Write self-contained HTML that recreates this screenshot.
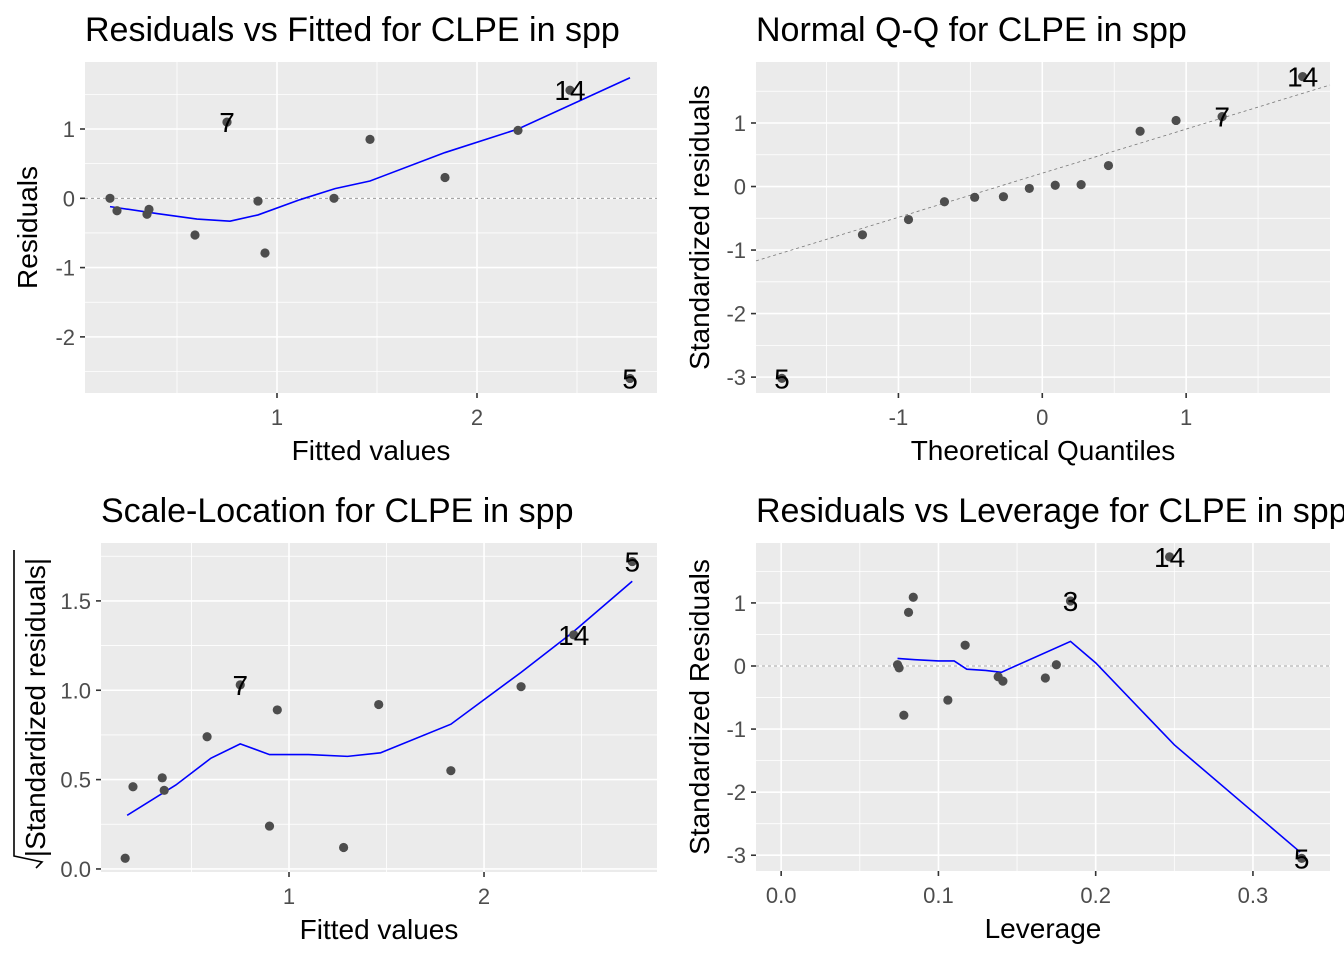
<!DOCTYPE html>
<html><head><meta charset="utf-8">
<style>
html,body{margin:0;padding:0;background:#fff;}
svg{display:block;font-family:"Liberation Sans",Arial,sans-serif;}
</style></head>
<body>
<svg id="chart" width="1344" height="960" viewBox="0 0 1344 960" xmlns="http://www.w3.org/2000/svg"></svg>
<script>
// Panel 1: Residuals vs Fitted
const p1Fitted = [0.165,0.2,0.35,0.36,0.59,0.75,0.905,0.94,1.285,1.465,1.84,2.205,2.465,2.765];
const p1Resid  = [0.0,-0.18,-0.23,-0.16,-0.53,1.1,-0.04,-0.79,0.0,0.85,0.3,0.98,1.56,-2.6];
const p1SmoothX = [0.165,0.4,0.6,0.765,0.905,1.115,1.29,1.465,1.84,2.205,2.765];
const p1SmoothY = [-0.12,-0.22,-0.3,-0.33,-0.24,-0.02,0.14,0.25,0.66,1.0,1.74];
const p1Labels = [[5,"7"],[12,"14"],[13,"5"]];
const p1XTicks = [1,2]; const p1XMinor=[0.5,1.5,2.5];
const p1YTicks = [-2,-1,0,1]; const p1YMinor=[-2.5,-1.5,-0.5,0.5,1.5];

// Panel 2: Normal Q-Q
const p2Theo = [-1.81,-1.25,-0.93,-0.68,-0.47,-0.27,-0.09,0.09,0.27,0.46,0.68,0.93,1.25,1.81];
const p2Std  = [-3.02,-0.76,-0.52,-0.24,-0.17,-0.16,-0.03,0.02,0.03,0.33,0.87,1.04,1.1,1.73];
const p2LineIntercept = 0.21, p2LineSlope = 0.694;
const p2Labels = [[0,"5"],[12,"7"],[13,"14"]];
const p2XTicks=[-1,0,1]; const p2XMinor=[-1.5,-0.5,0.5,1.5];
const p2YTicks=[-3,-2,-1,0,1]; const p2YMinor=[-2.5,-1.5,-0.5,0.5,1.5];

// Panel 3: Scale-Location
const p3Fitted = [0.16,0.2,0.35,0.36,0.58,0.75,0.9,0.94,1.28,1.46,1.83,2.19,2.46,2.76];
const p3Sqrt   = [0.06,0.46,0.51,0.44,0.74,1.03,0.24,0.89,0.12,0.92,0.55,1.02,1.31,1.72];
const p3SmoothX = [0.17,0.42,0.6,0.75,0.9,1.1,1.3,1.47,1.83,2.19,2.45,2.76];
const p3SmoothY = [0.3,0.47,0.62,0.7,0.64,0.64,0.63,0.65,0.81,1.1,1.32,1.61];
const p3Labels = [[5,"7"],[12,"14"],[13,"5"]];
const p3XTicks=[1,2]; const p3XMinor=[0.5,1.5,2.5];
const p3YTicks=[0,0.5,1,1.5]; const p3YTickLabels=["0.0","0.5","1.0","1.5"]; const p3YMinor=[0.25,0.75,1.25,1.75];

// Panel 4: Residuals vs Leverage
const p4Lev = [0.074,0.075,0.078,0.081,0.084,0.106,0.117,0.138,0.141,0.168,0.175,0.184,0.247,0.331];
const p4Std = [0.02,-0.03,-0.78,0.85,1.09,-0.54,0.33,-0.17,-0.24,-0.19,0.02,1.03,1.73,-3.05];
const p4SmoothX = [0.074,0.085,0.1,0.11,0.118,0.13,0.14,0.184,0.2,0.25,0.33];
const p4SmoothY = [0.12,0.1,0.08,0.08,-0.05,-0.07,-0.1,0.39,0.05,-1.25,-2.95];
const p4Labels = [[11,"3"],[12,"14"],[13,"5"]];
const p4XTicks=[0,0.1,0.2,0.3]; const p4XTickLabels=["0.0","0.1","0.2","0.3"]; const p4XMinor=[0.05,0.15,0.25];
const p4YTicks=[-3,-2,-1,0,1]; const p4YMinor=[-2.5,-1.5,-0.5,0.5,1.5];

const NS="http://www.w3.org/2000/svg";
const svg=document.getElementById('chart');
function mk(tag,attrs,parent){const e=document.createElementNS(NS,tag);for(const k in attrs)e.setAttribute(k,attrs[k]);(parent||svg).appendChild(e);return e;}

function panel(cfg){
  const g=mk('g',{});
  
  
  const sx=v=>cfg.x0+(v-cfg.xmin)/(cfg.xmax-cfg.xmin)*(cfg.x1-cfg.x0);
  const sy=v=>cfg.y1-(v-cfg.ymin)/(cfg.ymax-cfg.ymin)*(cfg.y1-cfg.y0);
  const bg=mk('rect',{x:cfg.x0,y:cfg.y0,width:cfg.x1-cfg.x0,height:cfg.y1-cfg.y0,fill:'#EBEBEB'},g);
  
  
  cfg.xMinor.forEach(v=>mk('line',{x1:sx(v),x2:sx(v),y1:cfg.y0,y2:cfg.y1,stroke:'#fff','stroke-width':0.8},g));
  cfg.yMinor.forEach(v=>{if(v>cfg.ymin&&v<cfg.ymax)mk('line',{x1:cfg.x0,x2:cfg.x1,y1:sy(v),y2:sy(v),stroke:'#fff','stroke-width':0.8},g);});
  cfg.xTicks.forEach((v,i)=>{
    mk('line',{x1:sx(v),x2:sx(v),y1:cfg.y0,y2:cfg.y1,stroke:'#fff','stroke-width':1.6},g);
    mk('line',{x1:sx(v),x2:sx(v),y1:cfg.y1,y2:cfg.y1+5,stroke:'#333','stroke-width':1.6},g);
    const t=mk('text',{x:sx(v),y:cfg.y1+32,'text-anchor':'middle','font-size':22,fill:'#4D4D4D'},g);
    t.textContent=cfg.xLab?cfg.xLab[i]:String(v);
    
    
  });
  cfg.yTicks.forEach((v,i)=>{
    mk('line',{x1:cfg.x0,x2:cfg.x1,y1:sy(v),y2:sy(v),stroke:'#fff','stroke-width':1.6},g);
    mk('line',{x1:cfg.x0-5,x2:cfg.x0,y1:sy(v),y2:sy(v),stroke:'#333','stroke-width':1.6},g);
    const t=mk('text',{x:cfg.x0-10,y:sy(v)+8,'text-anchor':'end','font-size':22,fill:'#4D4D4D'},g);
    t.textContent=cfg.yLab?cfg.yLab[i]:String(v);
    
    
  });
  if(cfg.zero){
    const z=mk('line',{x1:cfg.x0,x2:cfg.x1,y1:sy(0),y2:sy(0),stroke:'#888','stroke-width':0.8,'stroke-dasharray':'3,3'},g);
    
    
  }
  if(cfg.qq){
    const q=mk('line',{x1:cfg.x0,x2:cfg.x1,y1:sy(cfg.qq[0]+cfg.qq[1]*cfg.xmin),y2:sy(cfg.qq[0]+cfg.qq[1]*cfg.xmax),stroke:'#777','stroke-width':0.8,'stroke-dasharray':'3,3'},g);
    
    
  }
  if(cfg.sx){
    const pts=cfg.sx.map((v,i)=>sx(v)+','+sy(cfg.sy[i])).join(' ');
    const pl=mk('polyline',{points:pts,fill:'none',stroke:'#0000FF','stroke-width':1.6},g);
    
    
  }
  cfg.px.forEach((v,i)=>{
    const c=mk('circle',{cx:sx(v),cy:sy(cfg.py[i]),r:4.6,fill:'#4D4D4D'},g);
    
    
  });
  cfg.labels.forEach(([i,s])=>{
    const t=mk('text',{x:sx(cfg.px[i]),y:sy(cfg.py[i])+10,'text-anchor':'middle','font-size':28,fill:'#000'},g);
    t.textContent=s;
    
    
  });
  const tt=mk('text',{x:cfg.x0,y:cfg.y0-21,'font-size':34,fill:'#000'},g);
  tt.textContent=cfg.title;
  
  
  const xt=mk('text',{x:(cfg.x0+cfg.x1)/2,y:cfg.y1+67,'text-anchor':'middle','font-size':28,fill:'#000'},g);
  xt.textContent=cfg.xTitle;
  
  
  const yc=(cfg.y0+cfg.y1)/2;
  const yt=mk('text',{x:cfg.yTitleX,y:yc,'text-anchor':'middle','font-size':28,fill:'#000',transform:`rotate(-90 ${cfg.yTitleX} ${yc})`},g);
  yt.textContent=cfg.yTitle;
  
  
}

panel({name:'residuals-vs-fitted',x0:85,x1:657,y0:62,y1:393,xmin:0.04,xmax:2.9,ymin:-2.81,ymax:1.967,
  xTicks:p1XTicks,xMinor:p1XMinor,yTicks:p1YTicks,yMinor:p1YMinor,zero:true,
  sx:p1SmoothX,sy:p1SmoothY,px:p1Fitted,py:p1Resid,labels:p1Labels,
  title:'Residuals vs Fitted for CLPE in spp',xTitle:'Fitted values',yTitle:'Residuals',yTitleX:37});
panel({name:'normal-qq',x0:756,x1:1330,y0:62,y1:393,xmin:-1.99,xmax:2.0,ymin:-3.25,ymax:1.96,
  xTicks:p2XTicks,xMinor:p2XMinor,yTicks:p2YTicks,yMinor:p2YMinor,qq:[p2LineIntercept,p2LineSlope],
  px:p2Theo,py:p2Std,labels:p2Labels,
  title:'Normal Q-Q for CLPE in spp',xTitle:'Theoretical Quantiles',yTitle:'Standardized residuals',yTitleX:709});
panel({name:'scale-location',x0:101,x1:657,y0:543,y1:872,xmin:0.036,xmax:2.887,ymin:-0.017,ymax:1.824,
  xTicks:p3XTicks,xMinor:p3XMinor,yTicks:p3YTicks,yLab:p3YTickLabels,yMinor:p3YMinor,
  sx:p3SmoothX,sy:p3SmoothY,px:p3Fitted,py:p3Sqrt,labels:p3Labels,
  title:'Scale-Location for CLPE in spp',xTitle:'Fitted values',yTitle:'|Standardized residuals|',yTitleX:45});
panel({name:'residuals-vs-leverage',x0:756,x1:1330,y0:543,y1:871,xmin:-0.016,xmax:0.349,ymin:-3.25,ymax:1.95,
  xTicks:p4XTicks,xLab:p4XTickLabels,xMinor:p4XMinor,yTicks:p4YTicks,yMinor:p4YMinor,zero:true,
  sx:p4SmoothX,sy:p4SmoothY,px:p4Lev,py:p4Std,labels:p4Labels,
  title:'Residuals vs Leverage for CLPE in spp',xTitle:'Leverage',yTitle:'Standardized Residuals',yTitleX:709});
const sq=mk('polyline',{points:'14,550 14,856 42,862 36,868',fill:'none',stroke:'#000','stroke-width':1.6});


</script>
</body></html>
